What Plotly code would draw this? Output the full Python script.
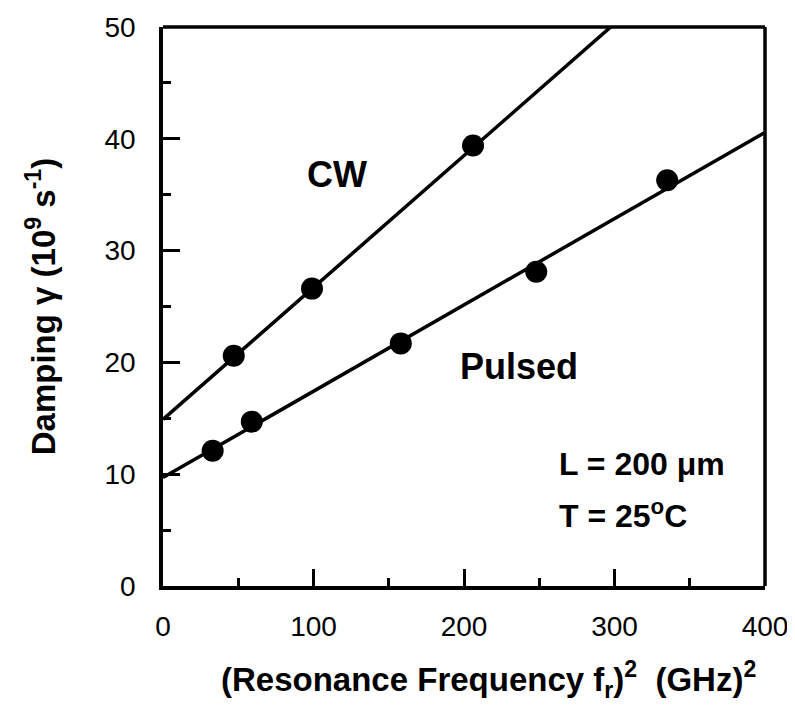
import plotly.graph_objects as go

# Data
cw_x = [47, 99, 206]
cw_y = [20.6, 26.6, 39.4]
pulsed_x = [33, 59, 158, 248, 335]
pulsed_y = [12.1, 14.7, 21.7, 28.1, 36.3]

# Straight-line fits (intercept, slope)
cw_fit = (14.9, 0.118)
pulsed_fit = (9.7, 0.0772)
fit_x = [0, 400]

x_ticks = [0, 100, 200, 300, 400]
y_ticks = [0, 10, 20, 30, 40, 50]

FONT = "Liberation Sans, Arial, Helvetica, sans-serif"

fig = go.Figure()

for (b, m) in (cw_fit, pulsed_fit):
    fig.add_trace(go.Scatter(
        x=fit_x, y=[b + m * x for x in fit_x], mode="lines",
        line=dict(color="black", width=3.5), showlegend=False,
        hoverinfo="skip", cliponaxis=True))

fig.add_trace(go.Scatter(x=cw_x, y=cw_y, mode="markers",
                         marker=dict(color="black", size=22), showlegend=False))
fig.add_trace(go.Scatter(x=pulsed_x, y=pulsed_y, mode="markers",
                         marker=dict(color="black", size=22), showlegend=False))

axis_common = dict(
    showgrid=False, zeroline=False, showline=True, linecolor="black",
    linewidth=3.5, ticks="inside", tickcolor="black", tickwidth=3,
    ticklen=17, mirror=False, automargin=False,
    tickfont=dict(family=FONT, size=28, color="black"),
    minor=dict(ticks="inside", ticklen=8, tickwidth=3, tickcolor="black"),
)

fig.update_xaxes(range=[0, 400], tickvals=x_ticks, dtick=100,
                 minor_dtick=50, ticklabelstandoff=13, **axis_common)
fig.update_yaxes(range=[0, 50], tickvals=y_ticks, dtick=10,
                 minor_dtick=5, ticklabelstandoff=18, **axis_common,
                 title=dict(text="<b>Damping γ (10<sup>9</sup> s<sup>-1</sup>)</b>",
                            font=dict(family=FONT, size=33, color="black"),
                            standoff=40))

# Frame: top and right lines
fig.add_shape(type="line", xref="paper", yref="paper", x0=0, x1=1, y0=1, y1=1,
              line=dict(color="black", width=3.5))
fig.add_shape(type="line", xref="paper", yref="paper", x0=1, x1=1, y0=0, y1=1,
              line=dict(color="black", width=3.5))

# X-axis title (slightly right of centre, as in the original)
fig.add_annotation(xref="paper", yref="paper", x=0.54, y=-0.168,
                   text="<b>(Resonance Frequency f<sub>r</sub>)<sup>2</sup>  (GHz)<sup>2</sup></b>",
                   showarrow=False, xanchor="center", yanchor="middle",
                   font=dict(family=FONT, size=33, color="black"))

ann_font = dict(family=FONT, color="black")
fig.add_annotation(x=115.6, y=36.8, text="<b>CW</b>", showarrow=False,
                   font=dict(size=36, **ann_font))
fig.add_annotation(x=236.5, y=19.6, text="<b>Pulsed</b>", showarrow=False,
                   font=dict(size=36, **ann_font))
fig.add_annotation(x=262, y=10.9, text="<b>L = 200 μm</b>", showarrow=False,
                   xanchor="left", font=dict(size=32, **ann_font))
fig.add_annotation(x=262, y=6.4, text="<b>T = 25<sup>o</sup>C</b>", showarrow=False,
                   xanchor="left", font=dict(size=32, **ann_font))

# The page body has an 8px margin, so the figure is sized to fit the window
fig.update_layout(
    width=787, height=702,
    margin=dict(l=155, r=30, t=19, b=124, autoexpand=False),
    plot_bgcolor="white", paper_bgcolor="white",
    font=dict(family=FONT, color="black"),
)

fig.write_html("out.html")
